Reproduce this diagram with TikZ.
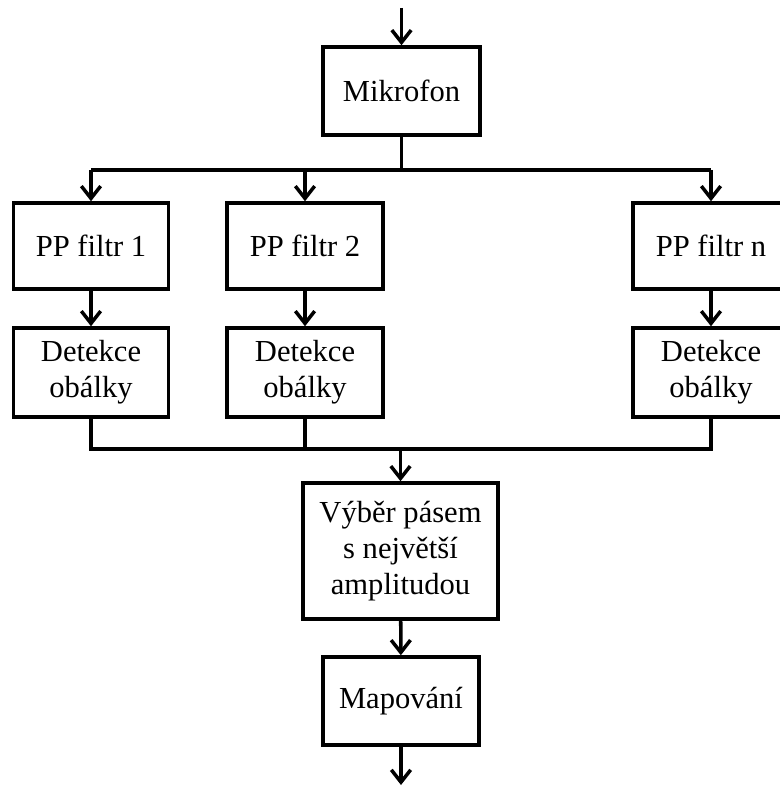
\documentclass[tikz,border=0pt]{standalone}
\usepackage{fontspec}
\setmainfont{Liberation Serif}
\usetikzlibrary{arrows.meta}
\tikzset{
  blok/.style={draw,line width=2pt,align=center,inner sep=0pt,
    font=\fontsize{17.4pt}{20.5pt}\selectfont},
  sip/.style={-{Straight Barb[length=7pt,width=11pt,line width=2pt]}},
}
\begin{document}
\begin{tikzpicture}[x=0.02cm,y=-0.02cm,line width=2pt]
  \useasboundingbox (0,0) rectangle (780,787);
  % bloky
  \node[blok,minimum width=157*0.02cm,minimum height=88*0.02cm] (mic) at (401.5,91) {Mikrofon};
  \node[blok,minimum width=155*0.02cm,minimum height=86*0.02cm] (pp1) at (91,246) {PP filtr 1};
  \node[blok,minimum width=156*0.02cm,minimum height=86*0.02cm] (pp2) at (305,246) {PP filtr 2};
  \node[blok,minimum width=156*0.02cm,minimum height=86*0.02cm] (ppn) at (711,246) {PP filtr n};
  \node[blok,minimum width=155*0.02cm,minimum height=89*0.02cm] (det1) at (91,372.5) {Detekce\\obálky};
  \node[blok,minimum width=156*0.02cm,minimum height=89*0.02cm] (det2) at (305,372.5) {Detekce\\obálky};
  \node[blok,minimum width=156*0.02cm,minimum height=89*0.02cm] (detn) at (711,372.5) {Detekce\\obálky};
  \node[blok,minimum width=195*0.02cm,minimum height=136*0.02cm] (sel) at (400.5,551) {Výběr pásem\\s největší\\amplitudou};
  \node[blok,minimum width=156*0.02cm,minimum height=88*0.02cm] (map) at (401,701) {Mapování};
  % body vetveni
  \coordinate (in) at (401.5,8);
  \coordinate (split) at (401.5,170);
  \coordinate (s1) at (91,170);
  \coordinate (s2) at (305,170);
  \coordinate (sn) at (711,170);
  \coordinate (j1) at (91,449);
  \coordinate (j2) at (305,449);
  \coordinate (jn) at (711,449);
  \coordinate (merge) at (400.5,449);
  \coordinate (out) at (401,785);
  % spoje
  \draw[sip] (in) -- (mic);
  \draw (mic) -- (split);
  \draw (s1) -- (sn);
  \draw[sip] (s1) -- (pp1);
  \draw[sip] (s2) -- (pp2);
  \draw[sip] (sn) -- (ppn);
  \draw[sip] (pp1) -- (det1);
  \draw[sip] (pp2) -- (det2);
  \draw[sip] (ppn) -- (detn);
  \draw (det1) -- (j1) -- (jn) -- (detn);
  \draw (det2) -- (j2);
  \draw[sip] (merge) -- (sel);
  \draw[sip] (sel) -- (map);
  \draw[sip] (map) -- (out);
\end{tikzpicture}
\end{document}
